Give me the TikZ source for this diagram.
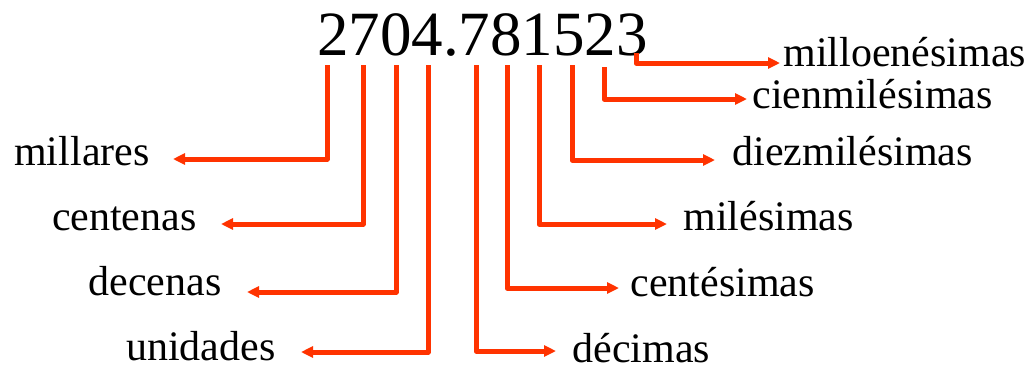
\documentclass[tikz,border=0pt]{standalone}
\usepackage{fontspec}
\setmainfont{Liberation Serif}
\usetikzlibrary{arrows.meta}
\definecolor{arrowred}{RGB}{255,51,0}
\newcommand{\lblfont}{\fontsize{21pt}{25pt}\selectfont}
\newcommand{\numfont}{\fontsize{31.5pt}{38pt}\selectfont}
\begin{document}
\begin{tikzpicture}[x=0.5pt,y=-0.5pt,
  lab/.style={font=\lblfont, inner ysep=0pt, text height=#1, text depth=0pt},
  conn/.style={draw=arrowred, line width=2.5pt, line join=round, -{Triangle[length=6pt,width=5.5pt]}},
  num/.style={font=\numfont, inner sep=0pt}]
\useasboundingbox (0,0) rectangle (1033,366);
% the number
\node[num, anchor=base] (number) at (482.5,55) {2704.781523};
% starts of the connectors under the digits
\coordinate (d1) at (327,65);
\coordinate (d2) at (363,65);
\coordinate (d3) at (396,65);
\coordinate (d4) at (428,65);
\coordinate (d5) at (476,65);
\coordinate (d6) at (507,65);
\coordinate (d7) at (539,65);
\coordinate (d8) at (572,65);
\coordinate (d9) at (604,67);
\coordinate (d10) at (636,53);
% left labels (text height = distance from baseline to arrow, in px, as pt)
\node[lab=6pt,   anchor=east, inner xsep=11.5pt] (millares) at (173,159) {millares};
\node[lab=6pt,   anchor=east, inner xsep=12pt]   (centenas) at (221,224) {centenas};
\node[lab=3.5pt, anchor=east, inner xsep=12.5pt] (decenas) at (247,292) {decenas};
\node[lab=8.3pt, anchor=east, inner xsep=12.5pt] (unidades) at (301,352) {unidades};
% right labels
\node[lab=11pt,  anchor=west, inner xsep=8pt]   (decimas) at (556,351) {décimas};
\node[lab=8.5pt, anchor=west, inner xsep=5.5pt] (centesimas) at (619,288) {centésimas};
\node[lab=6pt,   anchor=west, inner xsep=8pt]   (milesimas) at (667,224) {milésimas};
\node[lab=5pt,   anchor=west, inner xsep=8.5pt] (diezmilesimas) at (715,160) {diezmilésimas};
\node[lab=9pt,   anchor=west, inner xsep=2.5pt] (cienmilesimas) at (747,99) {cienmilésimas};
\node[lab=3.4pt, anchor=west, inner xsep=1.5pt] (milloenesimas) at (780,63) {milloenésimas};
% connectors
\draw[conn] (d1) |- (millares);
\draw[conn] (d2) |- (centenas);
\draw[conn] (d3) |- (decenas);
\draw[conn] (d4) |- (unidades);
\draw[conn] (d5) |- (decimas);
\draw[conn] (d6) |- (centesimas);
\draw[conn] (d7) |- (milesimas);
\draw[conn] (d8) |- (diezmilesimas);
\draw[conn] (d9) |- (cienmilesimas);
\draw[conn] (d10) |- (milloenesimas);
\end{tikzpicture}
\end{document}
